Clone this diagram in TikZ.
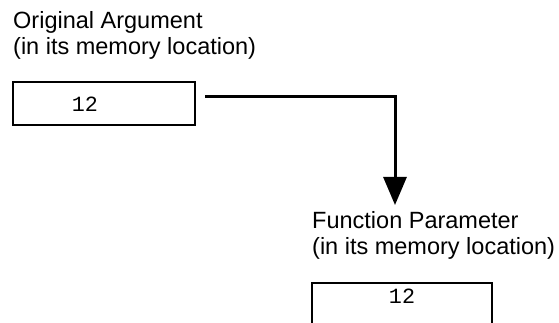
\documentclass[tikz,border=0pt]{standalone}
\usepackage{fontspec}
\setmainfont{Liberation Sans}
\setmonofont{Liberation Mono}
\usetikzlibrary{arrows.meta}
\begin{document}
\begin{tikzpicture}[x=1pt,y=-1pt,
  lbl/.style={font=\fontsize{23.5}{26}\selectfont, align=left, anchor=base west, inner sep=0pt},
  val/.style={font=\ttfamily\fontsize{21.7}{24}\selectfont, inner sep=0pt},
  cell/.style={draw, line width=1.8pt, minimum width=182pt, minimum height=43pt, inner sep=0pt},
  conn/.style={line width=3pt, -{Triangle[length=28pt,width=23pt]}}]
\useasboundingbox (0,0) rectangle (559,323);
\node[lbl] (t1) at (13,55) {Original Argument\\(in its memory location)};
\node[cell] (box1) at (104,103.5) {};
\node[val] (v1) at (85,104) {12};
\node[lbl] (t2) at (312,254) {Function Parameter\\(in its memory location)};
\coordinate (box2nw) at (312,283);
\coordinate (box2ne) at (492,283);
\coordinate (box2sw) at (312,323);
\coordinate (box2se) at (492,323);
\draw[line width=1.8pt] (box2sw) -- (box2nw) -- (box2ne) -- (box2se);
\node[val] (v2) at (402,296) {12};
\coordinate (start) at (205,97);
\coordinate (tip) at (395,205);
\draw[conn] (start) -- (tip |- start) -- (tip);
\end{tikzpicture}
\end{document}
